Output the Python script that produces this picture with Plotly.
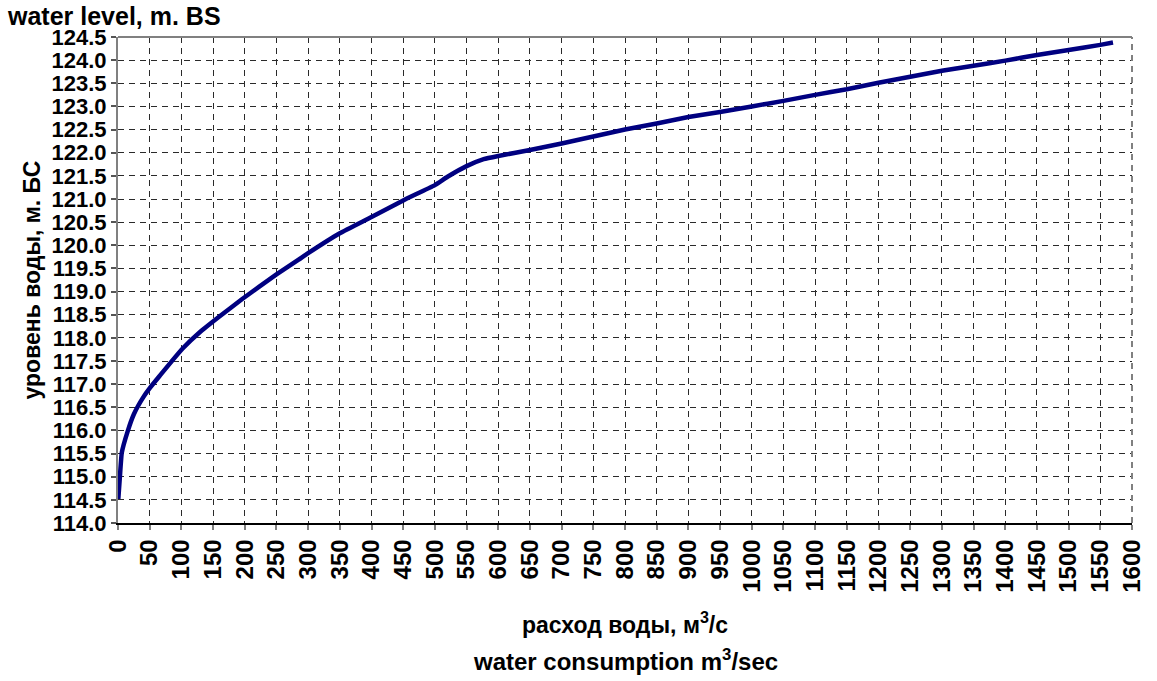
import plotly.graph_objects as go

# Rating curve: discharge (m3/s) vs. water level (m, Baltic system)
discharge = [0.5, 3, 6, 15, 25, 40, 51, 67, 82, 102, 129, 160, 196, 250, 285,
             300, 350, 400, 450, 500, 520, 550, 577, 600, 650, 700, 750, 800,
             850, 900, 950, 1000, 1050, 1100, 1150, 1200, 1250, 1300, 1350,
             1400, 1450, 1500, 1550, 1570]
level = [114.52, 115.0, 115.52, 115.97, 116.35, 116.72, 116.93, 117.2, 117.45,
         117.77, 118.12, 118.46, 118.84, 119.37, 119.69, 119.83, 120.26, 120.61,
         120.97, 121.3, 121.48, 121.71, 121.86, 121.93, 122.06, 122.2, 122.35,
         122.5, 122.63, 122.77, 122.88, 123.0, 123.12, 123.25, 123.37, 123.51,
         123.64, 123.77, 123.88, 123.99, 124.11, 124.22, 124.33, 124.38]

x_range = [0, 1600]
y_range = [114.0, 124.5]

FONT = "Arial, 'Liberation Sans', sans-serif"

fig = go.Figure()
fig.add_trace(go.Scatter(
    x=discharge, y=level, mode="lines",
    line=dict(color="#000080", width=4.5, shape="spline", smoothing=0.4),
    showlegend=False, hoverinfo="x+y",
))

fig.update_layout(
    width=1157, height=681,
    margin=dict(l=118, r=15, t=37, b=158),
    paper_bgcolor="white", plot_bgcolor="white",
    font=dict(family=FONT, color="black"),
)

fig.update_xaxes(
    range=x_range, dtick=50, tick0=0, tickangle=-90,
    tickfont=dict(family=FONT, size=24, weight="bold", color="black"),
    showgrid=True, gridcolor="#2a2a2a", gridwidth=1, griddash="6px,5px",
    showline=True, linecolor="black", linewidth=1.5,
    ticks="outside", ticklen=5, tickcolor="#808080", tickwidth=1.5,
    zeroline=False,
)
fig.update_yaxes(
    range=y_range, dtick=0.5, tick0=114, tickformat=".1f",
    tickfont=dict(family=FONT, size=22, weight="bold", color="black"),
    showgrid=True, gridcolor="#2a2a2a", gridwidth=1, griddash="6px,5px",
    showline=True, linecolor="#808080", linewidth=2,
    ticks="outside", ticklen=5, tickcolor="#555555", tickwidth=1.5,
    zeroline=False,
    title=dict(text="уровень воды, м. БС", standoff=4,
               font=dict(family=FONT, size=23, weight="bold", color="black")),
)

# plot frame: solid top edge, dashed right edge
fig.add_shape(type="line", xref="paper", yref="paper", x0=0, x1=1, y0=1, y1=1,
              line=dict(color="#808080", width=2))
fig.add_shape(type="line", xref="paper", yref="paper", x0=1, x1=1, y0=0, y1=1,
              line=dict(color="#808080", width=2, dash="6px,5px"))

fig.add_annotation(text="water level, m. BS", xref="paper", yref="paper",
                   x=0, y=1, xanchor="left", yanchor="bottom",
                   xshift=-113, yshift=5, showarrow=False,
                   font=dict(family=FONT, size=25, weight="bold", color="black"))
fig.add_annotation(text="расход воды, м<sup>3</sup>/с", xref="paper", yref="paper",
                   x=0.5, y=0, xanchor="center", yanchor="middle",
                   yshift=-100, showarrow=False,
                   font=dict(family=FONT, size=23, weight="bold", color="black"))
fig.add_annotation(text="water consumption m<sup>3</sup>/sec", xref="paper",
                   yref="paper", x=0.5, y=0, xanchor="center", yanchor="middle",
                   yshift=-137, showarrow=False,
                   font=dict(family=FONT, size=24, weight="bold", color="black"))

fig.write_html("out.html")
